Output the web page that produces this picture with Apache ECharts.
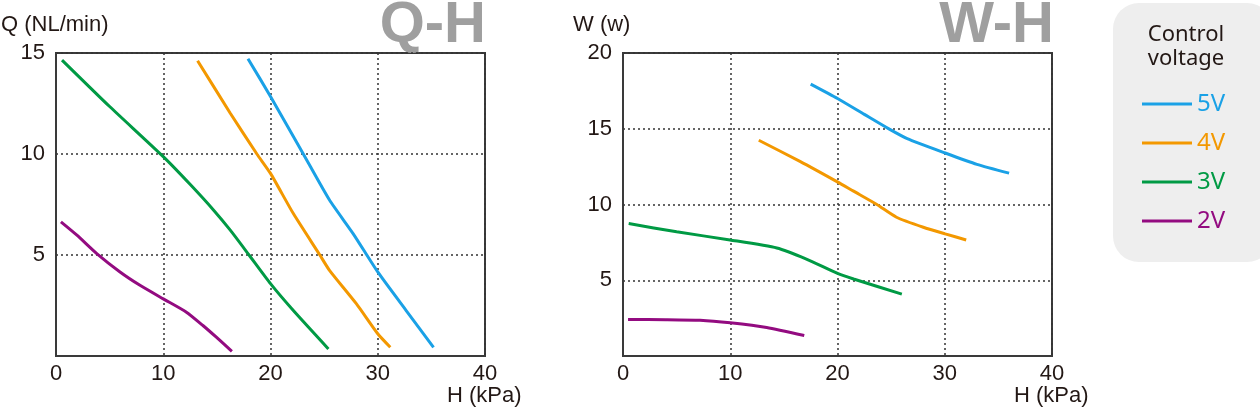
<!DOCTYPE html>
<html><head><meta charset="utf-8">
<script src="https://cdn.jsdelivr.net/npm/echarts@6/dist/echarts.min.js"></script>
<style>html,body{margin:0;padding:0;background:#fff}#c{width:1260px;height:411px}</style>
</head><body><div id="c"></div>
<script>
// Voltage series names and colours
const voltages = ['5V', '4V', '3V', '2V'];
const colors = ['#1aa1e6', '#f39800', '#009a44', '#930b80'];

// Q-H curves: [H (kPa), Q (NL/min)]
const qh5V = [[17.9,14.72],[20,12.85],[23.06,10],[25.5,7.72],[27.7,6.06],[30,4.16],[32.65,2.25],[35.2,0.43]];
const qh4V = [[13.2,14.62],[16.25,12.02],[18.73,10],[20,9.04],[22.13,7.05],[24.6,5],[25.5,4.24],[28,2.59],[30,1.1],[31.17,0.43]];
const qh3V = [[0.56,14.65],[5,12.35],[10,9.87],[12.5,8.5],[14.7,7.22],[16.25,6.23],[18,5],[20,3.58],[22.13,2.25],[25.4,0.35]];
const qh2V = [[0.46,6.64],[1.95,5.98],[3.8,5.07],[5.97,4.16],[7.83,3.5],[10,2.83],[12.16,2.17],[13.7,1.51],[14.95,0.93],[16.4,0.23]];

// W-H curves: [H (kPa), W (w)]
const wh5V = [[17.5,17.95],[20,17.0],[22.5,15.95],[24.75,15.01],[26.5,14.35],[30.04,13.4],[33,12.65],[36,12.07]];
const wh4V = [[12.66,14.24],[16.5,12.85],[20.03,11.48],[21.5,10.88],[23.67,10.0],[25.5,9.16],[28,8.5],[30.04,8.06],[32,7.66]];
const wh3V = [[0.53,8.74],[5,8.2],[9.98,7.66],[14.34,7.13],[17.1,6.4],[20,5.45],[21.5,5.08],[26,4.08]];
const wh2V = [[0.47,2.41],[4,2.4],[7.18,2.36],[10,2.19],[13.4,1.88],[16.9,1.35]];

// Axis ranges / tick steps
const hRange = [0, 40], hStep = 10;
const qRange = [0, 15], qStep = 5;
const wRange = [0, 20], wStep = 5;

const qhData = [qh5V, qh4V, qh3V, qh2V];
const whData = [wh5V, wh4V, wh3V, wh2V];

const font = '"Liberation Sans", Arial, sans-serif';
const lfont = '"Noto Sans", "Open Sans", sans-serif';
const axisCol = '#231815';

function xAx(gi) {
  return {
    type: 'value', gridIndex: gi, min: hRange[0], max: hRange[1], interval: hStep,
    axisLine: { show: true, lineStyle: { color: '#3a3a3a', width: 2 } },
    axisTick: { show: false },
    axisLabel: { color: axisCol, fontSize: 22, fontFamily: font, margin: 7 },
    splitLine: { show: true, lineStyle: { color: '#333', type: [2, 3], width: 1.5 } }
  };
}
function yAx(gi, r, s) {
  return {
    type: 'value', gridIndex: gi, min: r[0], max: r[1], interval: s,
    axisLine: { show: true, lineStyle: { color: '#3a3a3a', width: 2 } },
    axisTick: { show: false },
    axisLabel: { color: axisCol, fontSize: 22, fontFamily: font, margin: 11,
      formatter: v => v === 0 ? '' : String(v) },
    splitLine: { show: true, lineStyle: { color: '#333', type: [2, 3], width: 1.5 } }
  };
}

const series = [];
voltages.forEach((v, i) => {
  series.push({ name: v, type: 'line', xAxisIndex: 0, yAxisIndex: 0, data: qhData[i],
    smooth: 0.2, showSymbol: false, lineStyle: { width: 3, color: colors[i] }, itemStyle: { color: colors[i] } });
  series.push({ name: v, type: 'line', xAxisIndex: 1, yAxisIndex: 1, data: whData[i],
    smooth: 0.2, showSymbol: false, lineStyle: { width: 3, color: colors[i] }, itemStyle: { color: colors[i] } });
});

const chart = echarts.init(document.getElementById('c'), null, { renderer: 'canvas' });
chart.setOption({
  animation: false,
  backgroundColor: '#fff',
  grid: [
    { left: 56, right: 775, top: 53, bottom: 55, show: true, borderColor: '#3a3a3a', borderWidth: 2, containLabel: false },
    { left: 623, right: 208, top: 53, bottom: 55, show: true, borderColor: '#3a3a3a', borderWidth: 2, containLabel: false }
  ],
  xAxis: [xAx(0), xAx(1)],
  yAxis: [yAx(0, qRange, qStep), yAx(1, wRange, wStep)],
  legend: {
    orient: 'vertical', left: 1142, top: 92, padding: 0, itemWidth: 50, itemHeight: 3, itemGap: 15,
    icon: 'rect', selectedMode: false,
    textStyle: { fontSize: 24, lineHeight: 24, fontFamily: lfont },
    data: voltages.map((v, i) => ({ name: v, textStyle: { color: colors[i] } }))
  },
  graphic: [
    { type: 'rect', left: 1113, top: 3, z: -10, shape: { width: 160, height: 259, r: 26 }, style: { fill: '#eeeeee' } },
    { type: 'text', x: 1186, y: 35, style: { text: 'Control', font: '22px ' + lfont, fill: axisCol, align: 'center', verticalAlign: 'middle' } },
    { type: 'text', x: 1186, y: 59, style: { text: 'voltage', font: '22px ' + lfont, fill: axisCol, align: 'center', verticalAlign: 'middle' } },
    { type: 'text', x: 486, y: 26, style: { text: 'Q-H', font: 'bold 58px ' + font, fill: '#9f9f9f', align: 'right', verticalAlign: 'middle' } },
    { type: 'text', x: 1054, y: 26, style: { text: 'W-H', font: 'bold 58px ' + font, fill: '#9f9f9f', align: 'right', verticalAlign: 'middle' } },
    { type: 'text', x: 1, y: 25, style: { text: 'Q (NL/min)', font: '22px ' + font, fill: axisCol, align: 'left', verticalAlign: 'middle' } },
    { type: 'text', x: 573, y: 25, style: { text: 'W (w)', font: '22px ' + font, fill: axisCol, align: 'left', verticalAlign: 'middle' } },
    { type: 'text', x: 447, y: 396, style: { text: 'H (kPa)', font: '22px ' + font, fill: axisCol, align: 'left', verticalAlign: 'middle' } },
    { type: 'text', x: 1014, y: 396, style: { text: 'H (kPa)', font: '22px ' + font, fill: axisCol, align: 'left', verticalAlign: 'middle' } }
  ],
  series: series
});
</script></body></html>
